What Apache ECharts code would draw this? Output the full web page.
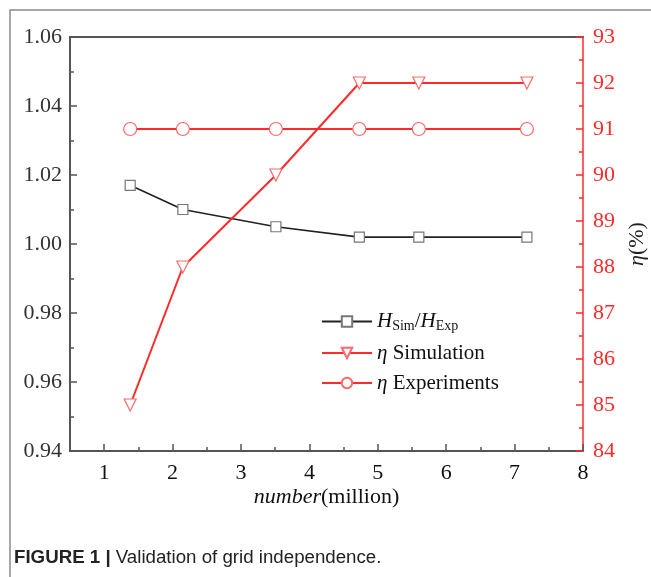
<!DOCTYPE html>
<html>
<head>
<meta charset="utf-8">
<script src="https://cdn.jsdelivr.net/npm/echarts@6/dist/echarts.min.js"></script>
<style>
  html, body { margin: 0; padding: 0; background: #fff; }
  #chart { width: 651px; height: 577px; }
</style>
</head>
<body>
<div id="chart"></div>
<script>
// grid size in million cells
const gridNumber = [1.38, 2.15, 3.51, 4.73, 5.6, 7.18];
const headRatio = [1.017, 1.010, 1.005, 1.002, 1.002, 1.002];
const etaSimulation = [85, 88, 90, 92, 92, 92];
const etaExperiments = [91, 91, 91, 91, 91, 91];

const xTicks = [1, 2, 3, 4, 5, 6, 7, 8];
const xMinorTicks = [1.5, 2.5, 3.5, 4.5, 5.5, 6.5, 7.5];

const seriesNames = ['H', 'etaSim', 'etaExp'];

const serif = 'Liberation Serif';
const red = '#ff2a2a';
const axisGray = '#555';

const pairs = (xs, ys) => xs.map((x, i) => [x, ys[i]]);

const chart = echarts.init(document.getElementById('chart'));

chart.setOption({
  backgroundColor: '#fff',
  animation: false,
  grid: { left: 70, right: 68, top: 37, bottom: 126, outerBoundsMode: 'none' },
  xAxis: [
    {
      type: 'value',
      position: 'bottom',
      min: 0.5,
      max: 8,
      axisLine: { lineStyle: { color: axisGray, width: 2 } },
      axisTick: { inside: true, length: 7, customValues: xTicks, lineStyle: { color: axisGray, width: 1.5 } },
      axisLabel: {
        customValues: xTicks,
        margin: 11,
        color: '#111',
        fontFamily: serif,
        fontSize: 22
      },
      splitLine: { show: false },
      name: '{i|number}{n|(million)}',
      nameLocation: 'middle',
      nameGap: 35,
      nameMoveOverlap: false,
      nameTextStyle: {
        rich: {
          i: { fontFamily: serif, fontSize: 22, fontStyle: 'italic', color: '#111' },
          n: { fontFamily: serif, fontSize: 22, color: '#111' }
        }
      }
    },
    {
      type: 'value',
      position: 'bottom',
      min: 0.5,
      max: 8,
      axisLine: { show: false },
      axisTick: { inside: true, length: 4, customValues: xMinorTicks, lineStyle: { color: axisGray, width: 1.5 } },
      axisLabel: { show: false },
      splitLine: { show: false }
    },
    {
      type: 'value',
      position: 'top',
      min: 0.5,
      max: 8,
      axisLine: { lineStyle: { color: axisGray, width: 2 } },
      axisTick: { show: false },
      axisLabel: { show: false },
      splitLine: { show: false }
    }
  ],
  yAxis: [
    {
      type: 'value',
      position: 'left',
      min: 0.94,
      max: 1.06,
      interval: 0.02,
      axisLine: { show: true, lineStyle: { color: axisGray, width: 2 } },
      axisTick: { show: true, inside: true, length: 7, lineStyle: { color: axisGray, width: 1.5 } },
      minorTick: { show: true, splitNumber: 2, length: 4, lineStyle: { color: axisGray, width: 1.5 } },
      axisLabel: {
        margin: 8,
        color: '#333',
        fontFamily: serif,
        fontSize: 22,
        formatter: v => v.toFixed(2)
      },
      splitLine: { show: false }
    },
    {
      type: 'value',
      position: 'right',
      min: 84,
      max: 93,
      interval: 1,
      axisLine: { show: true, lineStyle: { color: red, width: 1.5 } },
      axisTick: { show: true, inside: true, length: 7, lineStyle: { color: red, width: 1.5 } },
      minorTick: { show: true, splitNumber: 2, length: 4, lineStyle: { color: red, width: 1.5 } },
      axisLabel: {
        margin: 10,
        color: red,
        fontFamily: serif,
        fontSize: 22
      },
      splitLine: { show: false },
      name: '{i|η}{n|(%)}',
      nameLocation: 'middle',
      nameGap: 43,
      nameRotate: 90,
      nameTextStyle: {
        rich: {
          i: { fontFamily: serif, fontSize: 22, fontStyle: 'italic', color: '#222' },
          n: { fontFamily: serif, fontSize: 22, color: '#222' }
        }
      }
    }
  ],
  legend: {
    orient: 'vertical',
    left: 316,
    top: 306,
    itemWidth: 50,
    itemHeight: 13,
    itemGap: 9,
    data: seriesNames,
    formatter: name => {
      if (name === 'H') return '{i|H}{s|Sim}{n|/}{i|H}{s|Exp}';
      if (name === 'etaSim') return '{i|η}{n| Simulation}';
      return '{i|η}{n| Experiments}';
    },
    textStyle: {
      color: '#111',
      rich: {
        i: { fontFamily: serif, fontSize: 21, fontStyle: 'italic', lineHeight: 24, color: '#111' },
        n: { fontFamily: serif, fontSize: 21, lineHeight: 24, color: '#111' },
        s: { fontFamily: serif, fontSize: 14, lineHeight: 14, verticalAlign: 'bottom', color: '#111' }
      }
    }
  },
  series: [
    {
      name: 'H',
      type: 'line',
      xAxisIndex: 0,
      yAxisIndex: 0,
      data: pairs(gridNumber, headRatio),
      symbol: 'rect',
      symbolSize: 10,
      lineStyle: { color: '#222', width: 1.6 },
      itemStyle: { color: '#fff', borderColor: '#777', borderWidth: 1.2 }
    },
    {
      name: 'etaSim',
      type: 'line',
      xAxisIndex: 0,
      yAxisIndex: 1,
      data: pairs(gridNumber, etaSimulation),
      symbol: 'triangle',
      symbolRotate: 180,
      symbolSize: 12,
      lineStyle: { color: red, width: 2 },
      itemStyle: { color: '#fff', borderColor: '#ff6a6a', borderWidth: 1.2 }
    },
    {
      name: 'etaExp',
      type: 'line',
      xAxisIndex: 0,
      yAxisIndex: 1,
      data: pairs(gridNumber, etaExperiments),
      symbol: 'circle',
      symbolSize: 13,
      lineStyle: { color: red, width: 2 },
      itemStyle: { color: '#fff', borderColor: '#ff6a6a', borderWidth: 1.2 }
    }
  ],
  graphic: [
    {
      type: 'polyline',
      shape: { points: [[10, 577], [10, 10], [651, 10]] },
      style: { stroke: '#8a8a8a', lineWidth: 1.5, fill: null },
      silent: true
    },
    {
      type: 'text',
      left: 14,
      top: 548,
      style: {
        text: '{b|FIGURE 1 |} Validation of grid independence.',
        fontFamily: 'Liberation Sans',
        fontSize: 18.7,
        fill: '#222',
        rich: {
          b: { fontFamily: 'Liberation Sans', fontSize: 18.7, fontWeight: 'bold', fill: '#222' }
        }
      }
    }
  ]
});
</script>
</body>
</html>
